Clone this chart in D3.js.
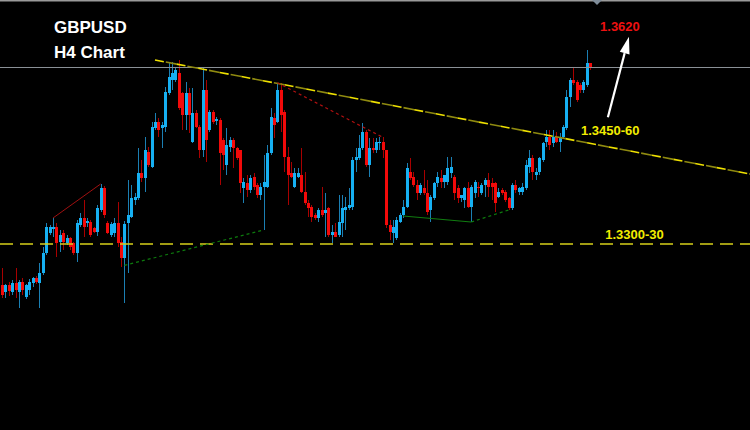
<!DOCTYPE html>
<html><head><meta charset="utf-8">
<script src="https://cdn.jsdelivr.net/npm/d3@7"></script>
<style>html,body{margin:0;padding:0;background:#000;overflow:hidden}svg{display:block}</style>
</head><body>
<svg id="c" width="750" height="430"></svg>
<script>
// GBPUSD H4 candles
const opens = [
1.3239,1.3228,1.3239,1.3228,1.3242,1.3228,1.3243,1.3221,1.3231,1.3242,
1.3249,1.3242,1.3257,1.3287,1.3317,1.3323,1.3326,1.3303,1.3317,1.3302,
1.3309,1.3302,1.3287,1.3329,1.3339,1.3332,1.3333,1.3324,1.3318,1.3351,
1.3384,1.3332,1.3314,1.3317,1.3332,1.3303,1.3279,1.3332,1.3341,1.3366,
1.3369,1.3407,1.3399,1.3438,1.3416,1.3474,1.3483,1.3474,1.3476,1.3527,
1.3546,1.3546,1.3557,1.3527,1.3494,1.3527,1.3453,1.3497,1.3476,1.3441,
1.3531,1.3471,1.3498,1.3485,1.3486,1.3456,1.3419,1.3446,1.3456,1.3444,
1.3441,1.3384,1.3392,1.3381,1.3401,1.3389,1.3374,1.3386,1.3386,1.3437,
1.3489,1.3483,1.3531,1.3498,1.3431,1.3407,1.3386,1.3401,1.3404,1.3378,
1.3362,1.3356,1.3344,1.3339,1.3351,1.3347,1.3354,1.3314,1.3318,1.3314,
1.3332,1.3351,1.3354,1.3356,1.3426,1.3429,1.3444,1.3468,1.3419,1.3444,
1.3441,1.3452,1.3453,1.3441,1.3329,1.3317,1.3309,1.3333,1.3344,1.3356,
1.3408,1.3401,1.3389,1.3377,1.3384,1.3377,1.3351,1.3369,1.3392,1.3399,
1.3393,1.3393,1.3407,1.3401,1.3384,1.3369,1.3366,1.3384,1.3356,1.3377,
1.3386,1.3377,1.3389,1.3396,1.3392,1.3392,1.3371,1.3381,1.3378,1.3369,
1.3354,1.3389,1.3378,1.3378,1.3384,1.3416,1.3429,1.3404,1.3408,1.3426,
1.3453,1.3461,1.3452,1.3461,1.3453,1.3461,1.3474,1.3521,1.3546,1.3543,
1.3539,1.3531,1.3539,1.3572];
const highs = [
1.3264,1.3240,1.3243,1.3246,1.3264,1.3246,1.3249,1.3240,1.3248,1.3251,
1.3252,1.3272,1.3296,1.3332,1.3329,1.3339,1.3332,1.3321,1.3321,1.3314,
1.3311,1.3303,1.3336,1.3347,1.3366,1.3339,1.3336,1.3326,1.3359,1.3390,
1.3387,1.3335,1.3333,1.3339,1.3363,1.3311,1.3334,1.3396,1.3389,1.3377,
1.3444,1.3426,1.3461,1.3446,1.3483,1.3497,1.3489,1.3483,1.3536,1.3572,
1.3573,1.3564,1.3576,1.3528,1.3543,1.3534,1.3534,1.3501,1.3479,1.3564,
1.3546,1.3501,1.3501,1.3491,1.3489,1.3459,1.3474,1.3461,1.3459,1.3446,
1.3441,1.3399,1.3404,1.3404,1.3407,1.3392,1.3392,1.3434,1.3449,1.3504,
1.3497,1.3542,1.3542,1.3501,1.3446,1.3423,1.3414,1.3414,1.3444,1.3408,
1.3366,1.3359,1.3347,1.3354,1.3386,1.3377,1.3356,1.3329,1.3332,1.3374,
1.3374,1.3371,1.3384,1.3431,1.3444,1.3464,1.3482,1.3471,1.3459,1.3459,
1.3459,1.3461,1.3461,1.3441,1.3336,1.3336,1.3341,1.3347,1.3366,1.3422,
1.3429,1.3408,1.3396,1.3392,1.3411,1.3396,1.3374,1.3393,1.3408,1.3411,
1.3404,1.3431,1.3431,1.3404,1.3389,1.3374,1.3386,1.3393,1.3389,1.3396,
1.3393,1.3392,1.3399,1.3407,1.3399,1.3393,1.3384,1.3384,1.3381,1.3371,
1.3392,1.3396,1.3386,1.3392,1.3426,1.3441,1.3434,1.3414,1.3431,1.3453,
1.3471,1.3471,1.3471,1.3468,1.3467,1.3479,1.3531,1.3549,1.3566,1.3546,
1.3542,1.3546,1.3591,1.3572];
const lows = [
1.3219,1.3219,1.3222,1.3224,1.3219,1.3204,1.3224,1.3218,1.3224,1.3236,
1.3240,1.3204,1.3254,1.3284,1.3314,1.3311,1.3281,1.3288,1.3291,1.3299,
1.3291,1.3284,1.3273,1.3326,1.3311,1.3326,1.3311,1.3317,1.3312,1.3348,
1.3339,1.3315,1.3311,1.3311,1.3296,1.3266,1.3212,1.3257,1.3339,1.3359,
1.3366,1.3393,1.3378,1.3416,1.3414,1.3471,1.3461,1.3444,1.3468,1.3524,
1.3531,1.3543,1.3501,1.3471,1.3471,1.3467,1.3452,1.3474,1.3429,1.3431,
1.3423,1.3468,1.3480,1.3479,1.3389,1.3411,1.3404,1.3438,1.3414,1.3426,
1.3377,1.3362,1.3371,1.3377,1.3381,1.3369,1.3366,1.3321,1.3384,1.3434,
1.3459,1.3482,1.3468,1.3408,1.3359,1.3399,1.3384,1.3399,1.3377,1.3359,
1.3341,1.3333,1.3336,1.3333,1.3341,1.3311,1.3311,1.3302,1.3311,1.3311,
1.3311,1.3321,1.3351,1.3351,1.3408,1.3426,1.3441,1.3416,1.3401,1.3437,
1.3437,1.3441,1.3429,1.3324,1.3306,1.3302,1.3306,1.3332,1.3339,1.3354,
1.3396,1.3386,1.3366,1.3374,1.3374,1.3344,1.3333,1.3366,1.3386,1.3384,
1.3384,1.3389,1.3399,1.3366,1.3362,1.3363,1.3354,1.3354,1.3333,1.3369,
1.3371,1.3374,1.3371,1.3371,1.3366,1.3348,1.3369,1.3374,1.3363,1.3351,
1.3351,1.3377,1.3374,1.3374,1.3381,1.3407,1.3396,1.3396,1.3404,1.3423,
1.3446,1.3441,1.3446,1.3452,1.3438,1.3459,1.3471,1.3506,1.3539,1.3513,
1.3527,1.3527,1.3536,1.3561];
const closes = [
1.3224,1.3239,1.3230,1.3242,1.3231,1.3243,1.3231,1.3239,1.3243,1.3249,
1.3243,1.3257,1.3287,1.3326,1.3326,1.3326,1.3302,1.3314,1.3303,1.3309,
1.3296,1.3287,1.3332,1.3339,1.3326,1.3335,1.3314,1.3318,1.3354,1.3384,
1.3344,1.3317,1.3330,1.3332,1.3302,1.3279,1.3330,1.3344,1.3369,1.3371,
1.3407,1.3399,1.3441,1.3419,1.3476,1.3483,1.3471,1.3479,1.3528,1.3551,
1.3557,1.3561,1.3504,1.3494,1.3527,1.3494,1.3497,1.3476,1.3441,1.3531,
1.3456,1.3498,1.3483,1.3488,1.3437,1.3434,1.3449,1.3456,1.3444,1.3429,
1.3392,1.3393,1.3381,1.3399,1.3386,1.3374,1.3386,1.3393,1.3437,1.3491,
1.3479,1.3531,1.3494,1.3431,1.3404,1.3401,1.3407,1.3407,1.3378,1.3362,
1.3354,1.3341,1.3339,1.3351,1.3344,1.3351,1.3314,1.3318,1.3311,1.3333,
1.3354,1.3356,1.3359,1.3426,1.3431,1.3444,1.3468,1.3419,1.3444,1.3441,
1.3453,1.3453,1.3441,1.3329,1.3318,1.3326,1.3336,1.3344,1.3356,1.3414,
1.3399,1.3389,1.3377,1.3389,1.3377,1.3348,1.3371,1.3392,1.3401,1.3393,
1.3404,1.3414,1.3416,1.3377,1.3369,1.3374,1.3384,1.3356,1.3386,1.3393,
1.3384,1.3389,1.3396,1.3386,1.3386,1.3362,1.3378,1.3377,1.3366,1.3354,
1.3389,1.3381,1.3384,1.3386,1.3419,1.3429,1.3408,1.3408,1.3429,1.3452,
1.3461,1.3449,1.3461,1.3453,1.3461,1.3476,1.3521,1.3546,1.3542,1.3516,
1.3531,1.3543,1.3572,1.3566];

// drawn objects: [barIndex, price]
const resistanceTrend = [[45, 1.3576], [220, 1.3405]];
const supportLevel = 1.3300;
const bidLevel = 1.3566;
const redRise = [[15, 1.3339], [29, 1.3390]];
const redFall = [[81, 1.3542], [112, 1.3460]];
const greenRise = [[36, 1.3268], [77, 1.3321]];
const greenFlat = [[118, 1.3342], [138, 1.3333]];
const greenRise2 = [[138, 1.3333], [149, 1.3351]];
const arrowPts = [[178.2, 1.3490], [184.4, 1.3611]];
const labels = [
  {text: "1.3620", i: 175.9, p: 1.3620, color: "#ee1111"},
  {text: "1.3450-60", i: 170.3, p: 1.3463, color: "#f2ec00"},
  {text: "1.3300-30", i: 177.4, p: 1.3308, color: "#f2ec00"}
];
const titles = ["GBPUSD", "H4 Chart"];

const svg = d3.select("#c");
const W = 750, H = 430;
svg.append("rect").attr("width", W).attr("height", H).attr("fill", "#000");

const x = d3.scaleLinear().domain([0, 220]).range([2, 750]);
const y = d3.scaleLinear().domain([1.3021, 1.3666]).range([430, 0]);

const idx = d3.range(opens.length);
const bull = i => closes[i] >= opens[i];

// top border + shift marker
svg.append("line").attr("x1", 0).attr("x2", W).attr("y1", 0.75).attr("y2", 0.75)
  .attr("stroke", "#9a9a9a").attr("stroke-width", 1.5);
svg.append("path").attr("d", "M592,0 L602,0 L597,5 Z").attr("fill", "#7f8c99");

// candles
const g = svg.append("g").attr("shape-rendering", "crispEdges");
g.selectAll("line.w").data(idx).join("line").attr("class", "w")
  .attr("x1", i => Math.round(x(i)) + 0.5).attr("x2", i => Math.round(x(i)) + 0.5)
  .attr("y1", i => y(highs[i])).attr("y2", i => y(lows[i]))
  .attr("stroke", i => bull(i) ? "#1b7fb3" : "#a80000").attr("stroke-width", 1);
g.selectAll("rect.b").data(idx).join("rect").attr("class", "b")
  .attr("x", i => Math.round(x(i)) - 1)
  .attr("width", 3)
  .attr("y", i => y(Math.max(opens[i], closes[i])))
  .attr("height", i => Math.max(1, Math.abs(y(opens[i]) - y(closes[i]))))
  .attr("fill", i => bull(i) ? "#16b0f2" : "#f20a0a");

// current price line
svg.append("line").attr("x1", 0).attr("x2", W)
  .attr("y1", Math.round(y(bidLevel)) + 0.5).attr("y2", Math.round(y(bidLevel)) + 0.5)
  .attr("stroke", "#8a9096").attr("stroke-width", 1);

// support dashed
svg.append("line").attr("x1", 0).attr("x2", W)
  .attr("y1", y(supportLevel)).attr("y2", y(supportLevel))
  .attr("stroke", "#d6cf1a").attr("stroke-width", 1.5).attr("stroke-dasharray", "13 7");

const line = d3.line().x(d => x(d[0])).y(d => y(d[1]));

// resistance trend: yellow/olive alternating dashes
svg.append("path").attr("d", line(resistanceTrend)).attr("fill", "none")
  .attr("stroke", "#8f8a10").attr("stroke-width", 1.6).attr("stroke-dasharray", "11 11").attr("stroke-dashoffset", -11);
svg.append("path").attr("d", line(resistanceTrend)).attr("fill", "none")
  .attr("stroke", "#eee000").attr("stroke-width", 1.6).attr("stroke-dasharray", "9 13");

svg.append("path").attr("d", line(redRise)).attr("fill", "none")
  .attr("stroke", "#a01010").attr("stroke-width", 1);
svg.append("path").attr("d", line(redFall)).attr("fill", "none")
  .attr("stroke", "#b01010").attr("stroke-width", 1.2).attr("stroke-dasharray", "3 3");
svg.append("path").attr("d", line(greenRise)).attr("fill", "none")
  .attr("stroke", "#0d7a0d").attr("stroke-width", 1.2).attr("stroke-dasharray", "3 3");
svg.append("path").attr("d", line(greenFlat)).attr("fill", "none")
  .attr("stroke", "#107c10").attr("stroke-width", 1.2);
svg.append("path").attr("d", line(greenRise2)).attr("fill", "none")
  .attr("stroke", "#0d7a0d").attr("stroke-width", 1.2).attr("stroke-dasharray", "3 3");

// white arrow
const ax0 = x(arrowPts[0][0]), ay0 = y(arrowPts[0][1]);
const ax1 = x(arrowPts[1][0]), ay1 = y(arrowPts[1][1]);
const ang = Math.atan2(ay1 - ay0, ax1 - ax0);
const hl = 17, hw = 5;
const bx = ax1 - hl * Math.cos(ang), by = ay1 - hl * Math.sin(ang);
svg.append("line").attr("x1", ax0).attr("y1", ay0).attr("x2", bx).attr("y2", by)
  .attr("stroke", "#fff").attr("stroke-width", 2.2);
svg.append("path").attr("fill", "#fff")
  .attr("d", `M${ax1},${ay1} L${bx + hw * Math.sin(ang)},${by - hw * Math.cos(ang)} L${bx - hw * Math.sin(ang)},${by + hw * Math.cos(ang)} Z`);

// labels
svg.selectAll("text.lbl").data(labels).join("text").attr("class", "lbl")
  .attr("x", d => x(d.i)).attr("y", d => y(d.p))
  .attr("fill", d => d.color)
  .attr("font-family", "'Liberation Sans', Arial, sans-serif")
  .attr("font-weight", "bold").attr("font-size", 13)
  .text(d => d.text);

svg.selectAll("text.ttl").data(titles).join("text").attr("class", "ttl")
  .attr("x", 54).attr("y", (d, k) => 33 + k * 25)
  .attr("fill", "#fff")
  .attr("font-family", "'Liberation Sans', Arial, sans-serif")
  .attr("font-weight", "bold").attr("font-size", 17)
  .text(d => d);
</script>
</body></html>
